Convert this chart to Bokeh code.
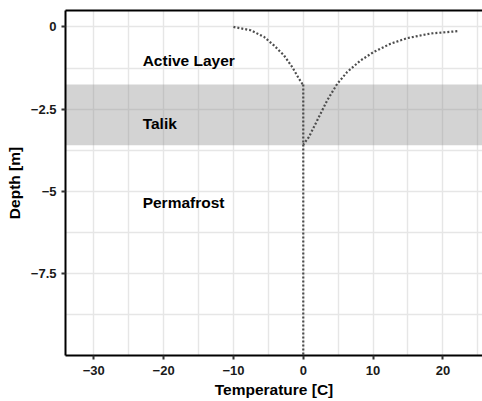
from bokeh.plotting import figure
from bokeh.models import (Range1d, FixedTicker, LinearAxis, BoxAnnotation, Label)
from bokeh.embed import file_html
from bokeh.resources import INLINE

# ---- data ----
left_temp = [-10.0, -7.55, -5.64, -4.21, -2.78, -1.58, -0.63, -0.14, 0.0]
left_depth = [0.0, -0.10, -0.30, -0.56, -0.86, -1.22, -1.57, -1.73, -1.75]

vert_temp = [0.0, 0.0]
vert_depth = [-1.75, -10.0]

right_temp = [22.06, 18.24, 14.90, 12.51, 10.11, 8.21, 6.30, 4.87, 3.44, 2.01, 0.81, 0.0]
right_depth = [-0.13, -0.20, -0.34, -0.51, -0.76, -1.02, -1.37, -1.73, -2.23, -2.84, -3.35, -3.58]

talik_top = -1.75
talik_bottom = -3.6

layer_names = ["Active Layer", "Talik", "Permafrost"]
layer_x = [-23.0, -23.0, -23.0]
layer_y = [-1.03, -2.95, -5.35]

x_ticks = [-30, -20, -10, 0, 10, 20]
x_minor = [-35, -25, -15, -5, 5, 15, 25]
y_ticks = [0, -2.5, -5, -7.5]
y_minor = [-1.25, -3.75, -6.25, -8.75]
y_tick_labels = {0: "0", -2.5: "\u22122.5", -5: "\u22125", -7.5: "\u22127.5"}
x_tick_labels = {v: (("\u2212" + str(-v)) if v < 0 else str(v)) for v in x_ticks}

FONT = "Liberation Sans"

p = figure(width=482, height=401, output_backend="svg", toolbar_location=None,
           x_range=Range1d(-34.05, 25.67), y_range=Range1d(-10.0, 0.5),
           min_border_left=65, min_border_right=0, min_border_top=10, min_border_bottom=46)
p.xaxis.visible = False
p.yaxis.visible = False
p.outline_line_color = None
p.background_fill_color = "white"
p.border_fill_color = "white"

# axes
xax = LinearAxis(ticker=FixedTicker(ticks=x_ticks, minor_ticks=x_minor))
yax = LinearAxis(ticker=FixedTicker(ticks=y_ticks, minor_ticks=y_minor))
for ax in (xax, yax):
    ax.axis_line_color = "black"
    ax.axis_line_width = 2
    ax.major_tick_line_color = "#333333"
    ax.major_tick_line_width = 2
    ax.major_tick_out = 4
    ax.major_tick_in = 0
    ax.minor_tick_line_color = None
    ax.major_label_text_font = FONT
    ax.major_label_text_font_style = "bold"
    ax.major_label_text_font_size = "13px"
    ax.major_label_text_color = "#1a1a1a"
    ax.axis_label_text_font = FONT
    ax.axis_label_text_font_style = "bold"
    ax.axis_label_text_font_size = "15.5px"
    ax.axis_label_text_color = "black"
xax.axis_label = "Temperature [C]"
xax.major_label_overrides = x_tick_labels
xax.major_label_standoff = 6
xax.axis_label_standoff = 3
yax.axis_label = "Depth [m]"
yax.major_label_overrides = y_tick_labels
yax.major_label_standoff = 5
yax.axis_label_standoff = 5
p.add_layout(xax, "below")
p.add_layout(yax, "left")

top = LinearAxis(ticker=FixedTicker(ticks=[]), axis_line_color="black", axis_line_width=2,
                 major_tick_line_color=None, minor_tick_line_color=None,
                 major_label_text_font_size="0px")
p.add_layout(top, "above")

# grids
p.xgrid.ticker = FixedTicker(ticks=x_ticks, minor_ticks=x_minor)
p.ygrid.ticker = FixedTicker(ticks=y_ticks, minor_ticks=y_minor)
for g in (p.xgrid, p.ygrid):
    g.grid_line_color = "#e6e6e6"
    g.grid_line_width = 1.4
    g.minor_grid_line_color = "#e6e6e6"
    g.minor_grid_line_width = 1.4

# talik band
p.add_layout(BoxAnnotation(bottom=talik_bottom, top=talik_top, fill_color="#808080",
                           fill_alpha=0.35, line_color=None, level="underlay"))

# curves
for xs, ys in ((left_temp, left_depth), (vert_temp, vert_depth), (right_temp, right_depth)):
    p.line(xs, ys, line_color="#4d4d4d", line_width=2.2, line_dash="2 2")

# layer labels
p.text(x=layer_x, y=layer_y, text=layer_names, text_align="left", text_baseline="middle",
       text_font={"value": FONT}, text_font_style="bold", text_font_size="15.5px",
       text_color="black")

open("out.html", "w").write(file_html(p, INLINE))
